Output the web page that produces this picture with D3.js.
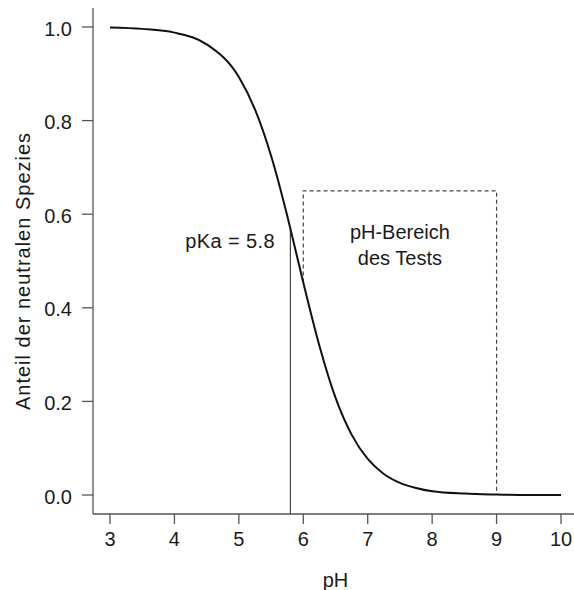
<!DOCTYPE html>
<html lang="de">
<head>
<meta charset="UTF-8">
<title>Anteil der neutralen Spezies</title>
<script src="https://d3js.org/d3.v7.min.js"></script>
<style>
  body { margin: 0; background: #fff; }
  svg text { font-family: "Liberation Sans", Arial, sans-serif; fill: #1a1a1a; }
</style>
</head>
<body>
<svg width="574" height="590"></svg>
<script>
    // values
    const pH = [3.0, 3.5, 4.0, 4.5, 5.0, 5.25, 5.5, 5.75, 5.8, 6.0, 6.25, 6.5, 6.75, 7.0, 7.25, 7.5, 7.75, 8.0, 8.5, 9.0, 9.5, 10.0]
    const neutral = [0.999, 0.996, 0.988, 0.963, 0.893, 0.824, 0.725, 0.597, 0.569, 0.454, 0.319, 0.208, 0.129, 0.077, 0.045, 0.026, 0.015, 0.008, 0.003, 0.001, 0.0, 0.0]
    const xTicks = [3, 4, 5, 6, 7, 8, 9, 10]
    const yTicks = [0.0, 0.2, 0.4, 0.6, 0.8, 1.0]
    const pKa = 5.8
    const testRange = [6, 9]
    const testTop = 0.65

    let svg = d3.select('svg')
    let x = d3.scaleLinear().domain([3, 10]).range([110, 561])
    let y = d3.scaleLinear().domain([0, 1]).range([495, 27])
    const axisColor = "#555"
    const fs = 20

    const points = pH.map((p, i) => ({x: p, y: neutral[i]}))
    const at = p => points.find(d => d.x === p).y

    // axes (L-shaped, R style)
    svg.append("line")
        .attr("x1", 93).attr("x2", 93).attr("y1", 8).attr("y2", 514)
        .attr("stroke", axisColor).attr("stroke-width", 1.3)
    svg.append("line")
        .attr("x1", 93).attr("x2", 574).attr("y1", 514).attr("y2", 514)
        .attr("stroke", axisColor).attr("stroke-width", 1.3)

    let yAxis = svg.append("g").selectAll("g").data(yTicks).enter().append("g")
    yAxis.append("line")
        .attr("x1", 82).attr("x2", 93)
        .attr("y1", d => y(d)).attr("y2", d => y(d))
        .attr("stroke", axisColor).attr("stroke-width", 1.3)
    yAxis.append("text")
        .attr("x", 72).attr("y", d => y(d) + 8.5)
        .attr("text-anchor", "end").attr("font-size", fs)
        .text(d => d3.format(".1f")(d))

    let xAxis = svg.append("g").selectAll("g").data(xTicks).enter().append("g")
    xAxis.append("line")
        .attr("x1", d => x(d)).attr("x2", d => x(d))
        .attr("y1", 514).attr("y2", 524)
        .attr("stroke", axisColor).attr("stroke-width", 1.3)
    xAxis.append("text")
        .attr("x", d => x(d)).attr("y", 546)
        .attr("text-anchor", "middle").attr("font-size", fs)
        .text(d => d)

    svg.append("text")
        .attr("x", x(6.5)).attr("y", 587)
        .attr("text-anchor", "middle").attr("font-size", fs)
        .text("pH")
    svg.append("text")
        .attr("transform", `translate(30,271) rotate(-90)`)
        .attr("text-anchor", "middle").attr("font-size", fs)
        .attr("letter-spacing", 1)
        .text("Anteil der neutralen Spezies")

    // pKa line
    svg.append("line")
        .attr("x1", x(pKa)).attr("x2", x(pKa))
        .attr("y1", 514).attr("y2", y(at(pKa)))
        .attr("stroke", "#444").attr("stroke-width", 1.2)
    svg.append("text")
        .attr("x", 275).attr("y", 248)
        .attr("text-anchor", "end").attr("font-size", fs)
        .attr("letter-spacing", 0.4)
        .text("pKa = " + pKa)

    // dashed test-range box
    svg.append("polyline")
        .attr("points", [
            [x(testRange[0]), y(at(testRange[0]))],
            [x(testRange[0]), y(testTop)],
            [x(testRange[1]), y(testTop)],
            [x(testRange[1]), y(at(testRange[1]))]
        ].join(" "))
        .attr("fill", "none").attr("stroke", "#444")
        .attr("stroke-width", 1.2).attr("stroke-dasharray", "4,3")
    const mid = x((testRange[0] + testRange[1]) / 2)
    svg.append("text")
        .attr("x", mid).attr("y", 239)
        .attr("text-anchor", "middle").attr("font-size", fs)
        .text("pH-Bereich")
    svg.append("text")
        .attr("x", mid).attr("y", 265)
        .attr("text-anchor", "middle").attr("font-size", fs)
        .text("des Tests")

    // curve
    svg.append("path")
        .datum(points)
        .attr("fill", "none").attr("stroke", "#111").attr("stroke-width", 2)
        .attr("d", d3.line().x(d => x(d.x)).y(d => y(d.y)).curve(d3.curveMonotoneX))
</script>
</body>
</html>
